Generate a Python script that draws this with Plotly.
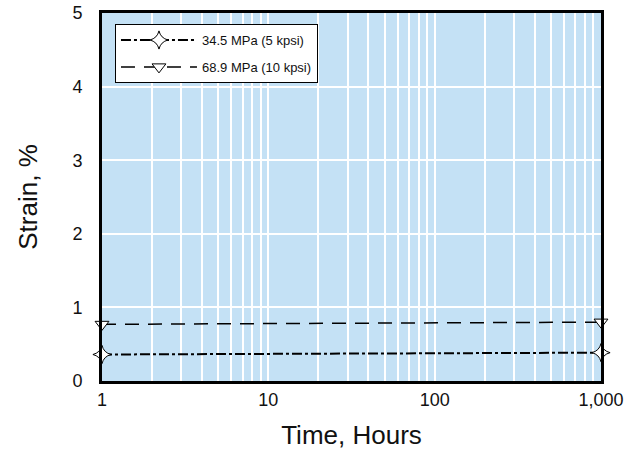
import plotly.graph_objects as go

hours = [1, 1000]
strain_5ksi = [0.36, 0.385]
strain_10ksi = [0.77, 0.80]
series_names = ["34.5 MPa (5 kpsi)", "68.9 MPa (10 kpsi)"]
x_ticks = [1, 10, 100, 1000]
x_tick_labels = ["1", "10", "100", "1,000"]
y_ticks = [0, 1, 2, 3, 4, 5]

grid_vals = []
grid_text = []
for dec in [1, 10, 100]:
    for m in range(1, 10):
        v = dec * m
        grid_vals.append(v)
        grid_text.append(x_tick_labels[x_ticks.index(v)] if v in x_ticks else "")
grid_vals.append(1000)
grid_text.append("1,000")

fig = go.Figure()
fig.add_trace(go.Scatter(
    x=hours, y=strain_5ksi, name=series_names[0], mode="lines+markers",
    legendgroup="a",
    line=dict(color="black", width=2, dash="10px,3px,3px,3px"),
    marker=dict(symbol="star-diamond", size=13, color="white", line=dict(color="black", width=1)),
    cliponaxis=False,
))
fig.add_trace(go.Scatter(
    x=hours, y=strain_10ksi, name=series_names[1], mode="lines+markers",
    legendgroup="b",
    line=dict(color="black", width=1.5, dash="14px,9px"),
    marker=dict(symbol="triangle-down", size=12, color="white", line=dict(color="black", width=1)),
    cliponaxis=False,
))

font_family = "Liberation Sans, Arial, sans-serif"
fig.update_layout(
    width=641, height=455,
    margin=dict(l=102, r=40, t=13, b=74),
    paper_bgcolor="white", plot_bgcolor="#c4e1f5",
    font=dict(family=font_family, color="#111", size=18),
    showlegend=True,
    legend=dict(x=0.026, y=0.97, xanchor="left", yanchor="top",
                bgcolor="white", bordercolor="black", borderwidth=1,
                font=dict(size=13, color="#111"), tracegroupgap=7,
                itemwidth=76),
    xaxis=dict(type="log", range=[0, 3], tickvals=grid_vals, ticktext=grid_text,
               showgrid=True, gridcolor="white", gridwidth=2, ticks="",
               showline=True, linecolor="black", linewidth=3, mirror=True,
               zeroline=False, ticklabelstandoff=0, automargin=False,
               title=dict(text="Time, Hours", font=dict(size=26), standoff=18),
               tickfont=dict(size=18)),
    yaxis=dict(range=[0, 5], tickvals=y_ticks, showgrid=True, gridcolor="white",
               gridwidth=2, ticks="", showline=True, linecolor="black", linewidth=3,
               mirror=True, zeroline=False, ticklabelstandoff=13, automargin=False,
               title=dict(text="Strain, %", font=dict(size=26), standoff=28),
               tickfont=dict(size=18)),
)
fig.write_html("out.html")
